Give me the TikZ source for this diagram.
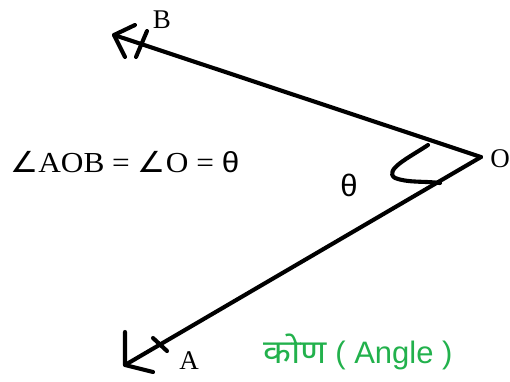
\documentclass[tikz,border=0pt]{standalone}
\usepackage{fontspec}
\usepackage{graphicx}
\setmainfont{Liberation Serif}
\newfontfamily\sansf{Liberation Sans}
\newfontfamily\symf{DejaVu Sans}
\newfontfamily\devf[Script=Devanagari]{Noto Sans}
\definecolor{pgreen}{RGB}{34,177,76}
\begin{document}
\begin{tikzpicture}[x=1pt,y=-1pt]
\tikzset{stroke/.style={line width=4.1pt, line cap=round, line join=round},
  lbl/.style={inner sep=0pt, anchor=base, font=\fontsize{27}{30}\selectfont}}
\useasboundingbox (0,0) rectangle (510,381);
\coordinate (O) at (481,157);
\coordinate (B) at (114,35);
\coordinate (A) at (125,365);
\draw[stroke] (O) -- (B);
\draw[stroke] (O) -- (A);
\draw[stroke] (135,25) -- (B) -- (125,57);
\draw[stroke] (147,31) -- (136,57);
\draw[stroke] (125,332) -- (A) -- (153,372);
\draw[stroke] (153,338) -- (167,351);
\draw[stroke] (428,145) .. controls (410,157) and (383,170) .. (395,178) .. controls (408,183) and (425,181) .. (440,183);
\node[lbl] (lB) at (162,28) {B};
\node[lbl] (lO) at (500,167) {O};
\node[lbl] (lA) at (189,369) {A};
\node[inner sep=0pt, anchor=base west, font=\fontsize{29}{32}\selectfont] (eq) at (10,172) {\scalebox{1.08}[1]{{\symf ∠}AOB = {\symf ∠}O = {\sansf θ}}};
\node[inner sep=0pt, anchor=base, font=\sansf\fontsize{31}{34}\selectfont] (th) at (349,196) {θ};
\node[inner sep=0pt, anchor=base west, text=pgreen] (title) at (263,363) {{\devf\fontsize{33}{36}\selectfont\scalebox{1.1}[1]{कोण}}{\sansf\fontsize{31}{34}\selectfont\ ( Angle )}};
\end{tikzpicture}
\end{document}
